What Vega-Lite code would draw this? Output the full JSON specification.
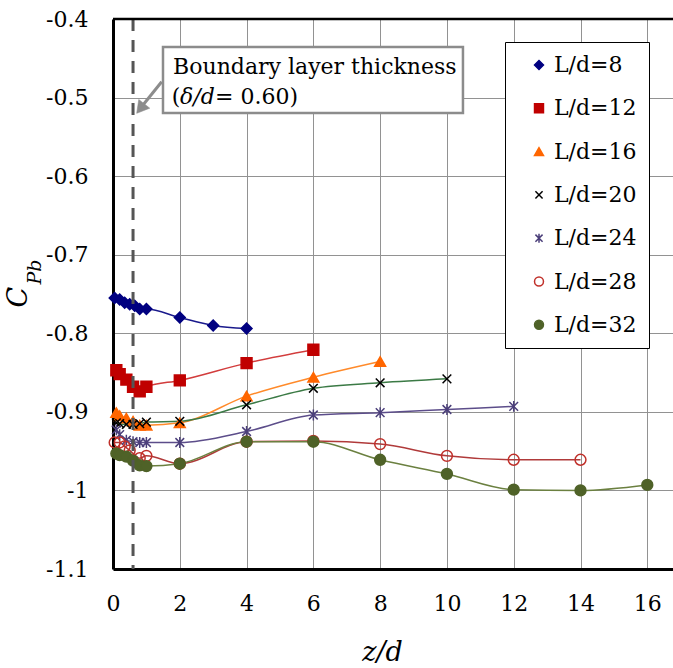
{
  "$schema": "https://vega.github.io/schema/vega-lite/v6.json",
  "width": 560,
  "height": 550,
  "autosize": {"type": "none"},
  "padding": {"left": 113, "top": 19, "right": 0, "bottom": 99},
  "background": "white",
  "config": {"font": "DejaVu Serif", "view": {"stroke": null}},
  "data": {"values": [
    {"series": "L/d=8", "z": 0.05, "cpb": -0.755},
    {"series": "L/d=8", "z": 0.2, "cpb": -0.757},
    {"series": "L/d=8", "z": 0.35, "cpb": -0.761},
    {"series": "L/d=8", "z": 0.5, "cpb": -0.763},
    {"series": "L/d=8", "z": 0.65, "cpb": -0.765},
    {"series": "L/d=8", "z": 0.8, "cpb": -0.769},
    {"series": "L/d=8", "z": 1, "cpb": -0.769},
    {"series": "L/d=8", "z": 2, "cpb": -0.780},
    {"series": "L/d=8", "z": 3, "cpb": -0.790},
    {"series": "L/d=8", "z": 4, "cpb": -0.794},
    {"series": "L/d=12", "z": 0.1, "cpb": -0.847},
    {"series": "L/d=12", "z": 0.2, "cpb": -0.852},
    {"series": "L/d=12", "z": 0.4, "cpb": -0.859},
    {"series": "L/d=12", "z": 0.6, "cpb": -0.868},
    {"series": "L/d=12", "z": 0.8, "cpb": -0.874},
    {"series": "L/d=12", "z": 1, "cpb": -0.868},
    {"series": "L/d=12", "z": 2, "cpb": -0.860},
    {"series": "L/d=12", "z": 4, "cpb": -0.838},
    {"series": "L/d=12", "z": 6, "cpb": -0.821},
    {"series": "L/d=16", "z": 0.1, "cpb": -0.901},
    {"series": "L/d=16", "z": 0.2, "cpb": -0.905},
    {"series": "L/d=16", "z": 0.4, "cpb": -0.908},
    {"series": "L/d=16", "z": 0.6, "cpb": -0.912},
    {"series": "L/d=16", "z": 0.8, "cpb": -0.917},
    {"series": "L/d=16", "z": 1, "cpb": -0.917},
    {"series": "L/d=16", "z": 2, "cpb": -0.914},
    {"series": "L/d=16", "z": 4, "cpb": -0.880},
    {"series": "L/d=16", "z": 6, "cpb": -0.856},
    {"series": "L/d=16", "z": 8, "cpb": -0.836},
    {"series": "L/d=20", "z": 0.1, "cpb": -0.914},
    {"series": "L/d=20", "z": 0.2, "cpb": -0.915},
    {"series": "L/d=20", "z": 0.4, "cpb": -0.916},
    {"series": "L/d=20", "z": 0.6, "cpb": -0.916},
    {"series": "L/d=20", "z": 0.8, "cpb": -0.915},
    {"series": "L/d=20", "z": 1, "cpb": -0.913},
    {"series": "L/d=20", "z": 2, "cpb": -0.912},
    {"series": "L/d=20", "z": 4, "cpb": -0.891},
    {"series": "L/d=20", "z": 6, "cpb": -0.870},
    {"series": "L/d=20", "z": 8, "cpb": -0.863},
    {"series": "L/d=20", "z": 10, "cpb": -0.858},
    {"series": "L/d=24", "z": 0.1, "cpb": -0.923},
    {"series": "L/d=24", "z": 0.2, "cpb": -0.929},
    {"series": "L/d=24", "z": 0.4, "cpb": -0.936},
    {"series": "L/d=24", "z": 0.6, "cpb": -0.938},
    {"series": "L/d=24", "z": 0.8, "cpb": -0.939},
    {"series": "L/d=24", "z": 1, "cpb": -0.939},
    {"series": "L/d=24", "z": 2, "cpb": -0.939},
    {"series": "L/d=24", "z": 4, "cpb": -0.925},
    {"series": "L/d=24", "z": 6, "cpb": -0.904},
    {"series": "L/d=24", "z": 8, "cpb": -0.901},
    {"series": "L/d=24", "z": 10, "cpb": -0.897},
    {"series": "L/d=24", "z": 12, "cpb": -0.893},
    {"series": "L/d=28", "z": 0.05, "cpb": -0.939},
    {"series": "L/d=28", "z": 0.2, "cpb": -0.939},
    {"series": "L/d=28", "z": 0.35, "cpb": -0.944},
    {"series": "L/d=28", "z": 0.5, "cpb": -0.949},
    {"series": "L/d=28", "z": 0.8, "cpb": -0.959},
    {"series": "L/d=28", "z": 1, "cpb": -0.956},
    {"series": "L/d=28", "z": 2, "cpb": -0.966},
    {"series": "L/d=28", "z": 4, "cpb": -0.938},
    {"series": "L/d=28", "z": 6, "cpb": -0.937},
    {"series": "L/d=28", "z": 8, "cpb": -0.941},
    {"series": "L/d=28", "z": 10, "cpb": -0.956},
    {"series": "L/d=28", "z": 12, "cpb": -0.961},
    {"series": "L/d=28", "z": 14, "cpb": -0.961},
    {"series": "L/d=32", "z": 0.1, "cpb": -0.953},
    {"series": "L/d=32", "z": 0.2, "cpb": -0.955},
    {"series": "L/d=32", "z": 0.4, "cpb": -0.957},
    {"series": "L/d=32", "z": 0.6, "cpb": -0.962},
    {"series": "L/d=32", "z": 0.8, "cpb": -0.968},
    {"series": "L/d=32", "z": 1, "cpb": -0.969},
    {"series": "L/d=32", "z": 2, "cpb": -0.966},
    {"series": "L/d=32", "z": 4, "cpb": -0.938},
    {"series": "L/d=32", "z": 6, "cpb": -0.938},
    {"series": "L/d=32", "z": 8, "cpb": -0.961},
    {"series": "L/d=32", "z": 10, "cpb": -0.979},
    {"series": "L/d=32", "z": 12, "cpb": -0.999},
    {"series": "L/d=32", "z": 14, "cpb": -1.0},
    {"series": "L/d=32", "z": 16, "cpb": -0.993}
  ]},
  "layer": [
    {
      "mark": {"type": "line", "interpolate": "monotone", "strokeWidth": 1.5},
      "encoding": {
        "x": {
          "field": "z", "type": "quantitative",
          "scale": {"domain": [0, 16.77], "nice": false, "zero": false},
          "axis": {
            "title": "z/d",
            "values": [0, 1, 2, 3, 4, 5, 6, 7, 8, 9, 10, 11, 12, 13, 14, 15, 16],
            "labelExpr": "datum.value % 2 == 0 ? toString(datum.value) : ''",
            "grid": true,
            "gridColor": {"condition": {"test": "datum.value % 2 == 0", "value": "#929292"}, "value": "#c6c6c6"},
            "gridWidth": 1,
            "ticks": false, "tickSize": 0,
            "labelPadding": 24, "labelFontSize": 22, "labelColor": "black", "labelFont": "DejaVu Serif",
            "labelFlush": false, "labelOverlap": false,
            "domainColor": "black", "domainWidth": 3,
            "titleFont": "DejaVu Serif", "titleFontSize": 27, "titleFontStyle": "italic", "titleFontWeight": "normal",
            "titleColor": "black", "titleX": 269, "titleY": 91, "titleAlign": "center", "titleBaseline": "alphabetic"
          }
        },
        "y": {
          "field": "cpb", "type": "quantitative",
          "scale": {"domain": [-1.1, -0.4], "nice": false, "zero": false},
          "axis": {
            "title": null,
            "values": [-1.1, -1.05, -1, -0.95, -0.9, -0.85, -0.8, -0.75, -0.7, -0.65, -0.6, -0.55, -0.5, -0.45, -0.4],
            "labelExpr": "abs(round(datum.value*100)) % 10 == 0 ? '-' + toString(abs(round(datum.value*10)/10)) : ''",
            "grid": true,
            "gridColor": {"condition": {"test": "abs(round(datum.value*100)) % 10 == 0", "value": "#929292"}, "value": "#b9b9b9"},
            "gridWidth": 1,
            "ticks": false, "tickSize": 0,
            "labelPadding": 25, "labelFontSize": 22, "labelColor": "black", "labelFont": "DejaVu Serif",
            "labelFlush": false, "labelOverlap": false,
            "domainColor": "black", "domainWidth": 3
          }
        },
        "color": {
          "field": "series", "type": "nominal",
          "scale": {
            "domain": ["L/d=32", "L/d=28", "L/d=24", "L/d=20", "L/d=16", "L/d=12", "L/d=8"],
            "range": ["#6b8040", "#b03a3a", "#5c4d8a", "#3b7a45", "#ff8a2a", "#d23c3c", "#1a1a8c"]
          },
          "legend": null
        }
      }
    },
    {
      "mark": {"type": "point", "filled": true, "size": 118, "strokeWidth": 1.5, "opacity": 1},
      "encoding": {
        "x": {"field": "z", "type": "quantitative"},
        "y": {"field": "cpb", "type": "quantitative"},
        "shape": {
          "field": "series", "type": "nominal",
          "scale": {
            "domain": ["L/d=8", "L/d=12", "L/d=16", "L/d=20", "L/d=24", "L/d=28", "L/d=32"],
            "range": ["diamond", "square", "triangle-up", "M-0.8,-0.8L0.8,0.8M-0.8,0.8L0.8,-0.8", "M-0.8,-0.8L0.8,0.8M-0.8,0.8L0.8,-0.8M0,-1L0,1", "circle", "circle"]
          }
        },
        "fill": {
          "field": "series", "type": "nominal",
          "scale": {
            "domain": ["L/d=8", "L/d=12", "L/d=16", "L/d=20", "L/d=24", "L/d=28", "L/d=32"],
            "range": ["#000080", "#c00000", "#ff6600", "transparent", "transparent", "transparent", "#4f6228"]
          },
          "legend": {
            "title": null,
            "orient": "none", "legendX": 392, "legendY": 23,
            "padding": 12, "rowPadding": 21.3,
            "labelFontSize": 22, "labelFont": "DejaVu Serif", "labelColor": "black",
            "labelExpr": "datum.label + '\u00a0\u00a0'",
            "symbolSize": 80, "symbolOffset": 11, "labelOffset": 4, "symbolStrokeWidth": 1.5,
            "strokeColor": "black", "fillColor": "white"
          }
        },
        "stroke": {
          "field": "series", "type": "nominal",
          "scale": {
            "domain": ["L/d=8", "L/d=12", "L/d=16", "L/d=20", "L/d=24", "L/d=28", "L/d=32"],
            "range": ["#000080", "#c00000", "#ff6600", "#000000", "#4b3f7a", "#c0302a", "#4f6228"]
          }
        }
      }
    },
    {
      "data": {"values": [{}]},
      "mark": {"type": "rule", "stroke": "#555555", "strokeWidth": 3, "strokeDash": [12, 9]},
      "encoding": {"x": {"datum": 0.6, "type": "quantitative"}}
    },
    {
      "data": {"values": [{}]},
      "mark": {"type": "rule", "stroke": "black", "strokeWidth": 2.5},
      "encoding": {"y": {"datum": -0.4, "type": "quantitative"}}
    },
    {
      "data": {"values": [{}]},
      "mark": {"type": "rect", "fill": "white", "stroke": "#8c8c8c", "strokeWidth": 2.5},
      "encoding": {
        "x": {"datum": 1.497, "type": "quantitative"},
        "x2": {"datum": 10.48},
        "y": {"datum": -0.4356, "type": "quantitative"},
        "y2": {"datum": -0.5196}
      }
    },
    {
      "data": {"values": [{}]},
      "mark": {"type": "rule", "stroke": "#8c8c8c", "strokeWidth": 3},
      "encoding": {
        "x": {"datum": 1.458, "type": "quantitative"},
        "x2": {"datum": 0.85},
        "y": {"datum": -0.4798, "type": "quantitative"},
        "y2": {"datum": -0.512}
      }
    },
    {
      "data": {"values": [{}]},
      "mark": {"type": "point", "shape": "triangle-up", "filled": true, "fill": "#8c8c8c", "stroke": "#8c8c8c", "strokeWidth": 0.5, "size": 196, "angle": 218.4, "opacity": 1},
      "encoding": {
        "x": {"datum": 0.823, "type": "quantitative"},
        "y": {"datum": -0.514, "type": "quantitative"}
      }
    },
    {
      "data": {"values": [{}]},
      "mark": {"type": "text", "text": "Boundary layer thickness", "font": "DejaVu Serif", "fontSize": 22, "align": "left", "baseline": "alphabetic", "color": "black"},
      "encoding": {
        "x": {"datum": 1.8, "type": "quantitative"},
        "y": {"datum": -0.470, "type": "quantitative"}
      }
    },
    {
      "data": {"values": [{}]},
      "mark": {"type": "text", "text": "(", "font": "DejaVu Serif", "fontSize": 22, "align": "left", "baseline": "alphabetic", "color": "black"},
      "encoding": {
        "x": {"datum": 1.757, "type": "quantitative"},
        "y": {"datum": -0.508, "type": "quantitative"}
      }
    },
    {
      "data": {"values": [{}]},
      "mark": {"type": "text", "text": "δ/d", "font": "DejaVu Serif", "fontStyle": "italic", "fontSize": 22, "align": "left", "baseline": "alphabetic", "color": "black"},
      "encoding": {
        "x": {"datum": 2.006, "type": "quantitative"},
        "y": {"datum": -0.508, "type": "quantitative"}
      }
    },
    {
      "data": {"values": [{}]},
      "mark": {"type": "text", "text": "= 0.60)", "font": "DejaVu Serif", "fontSize": 22, "align": "left", "baseline": "alphabetic", "color": "black"},
      "encoding": {
        "x": {"datum": 3.054, "type": "quantitative"},
        "y": {"datum": -0.508, "type": "quantitative"}
      }
    },
    {
      "data": {"values": [{}]},
      "mark": {"type": "text", "text": "C", "font": "DejaVu Serif", "fontStyle": "italic", "fontSize": 27, "angle": 270, "align": "center", "baseline": "middle", "color": "black"},
      "encoding": {
        "x": {"datum": -2.8, "type": "quantitative"},
        "y": {"datum": -0.754, "type": "quantitative"}
      }
    },
    {
      "data": {"values": [{}]},
      "mark": {"type": "text", "text": "Pb", "font": "DejaVu Serif", "fontStyle": "italic", "fontSize": 19, "angle": 270, "align": "center", "baseline": "middle", "color": "black"},
      "encoding": {
        "x": {"datum": -2.35, "type": "quantitative"},
        "y": {"datum": -0.722, "type": "quantitative"}
      }
    }
  ]
}
